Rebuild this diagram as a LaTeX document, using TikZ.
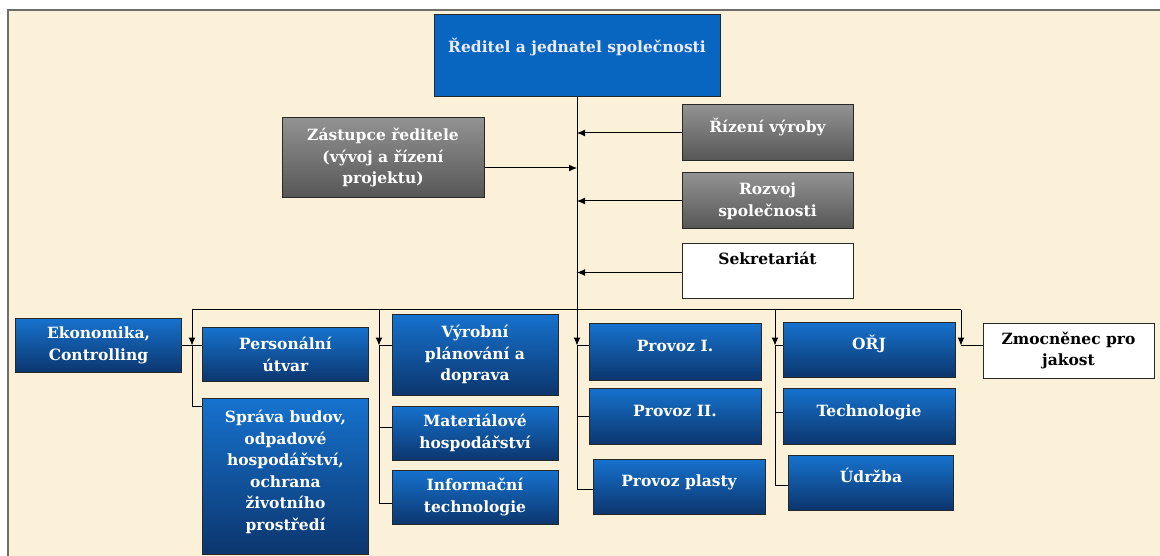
\documentclass[tikz,border=0pt]{standalone}
\usepackage{fontspec}
\setmainfont{DejaVu Serif}
\usepackage{tikz}
\usetikzlibrary{positioning, arrows.meta}
\definecolor{paper}{RGB}{251,240,216}
\definecolor{frame}{RGB}{110,110,110}
\definecolor{topblue}{RGB}{8,102,192}
\definecolor{hiblue}{RGB}{22,114,206}
\definecolor{loblue}{RGB}{12,54,110}
\definecolor{higrey}{RGB}{146,146,146}
\definecolor{logrey}{RGB}{86,86,86}
\definecolor{edge}{RGB}{40,40,40}

\begin{document}
\begin{tikzpicture}[x=1pt, y=-1pt, node distance=10pt, line width=1pt,
  font=\fontsize{15.5}{21.5}\selectfont\bfseries]
 \tikzstyle{H} = [fill=topblue, draw=edge, rectangle, text=white!92!blue, minimum width=286pt, minimum height=82pt, text height=8pt, text depth=14pt]
 \tikzstyle{G} = [top color=higrey, bottom color=logrey, draw=edge, rectangle, text=white, align=center, minimum width=171pt, minimum height=56pt]
 \tikzstyle{U} = [top color=hiblue, bottom color=loblue, draw=edge, rectangle, text=white, align=center, minimum width=166pt, minimum height=54pt]
 \tikzstyle{W} = [fill=white, draw=edge, rectangle, align=center, minimum width=171pt, minimum height=55pt]
 \tikzstyle{L} = [text height=8pt, text depth=8pt]
 \tikzstyle{arr} = [-{Latex[length=8pt, width=7pt]}]

 % page and paper
 \useasboundingbox (0,0) rectangle (1160,556);
 \fill[white] (0,0) rectangle (1160,556);
 \draw[frame, fill=paper, line width=1.4pt] (8,10) rectangle (1175,570);

 % management
 \node [H] (ceo) at (577,56) {Ředitel a jednatel společnosti};
 \node [G, L] (rizeni) at (767.5,133) {Řízení výroby};
 \node [G, below = 11pt of rizeni] (rozvoj) {Rozvoj\\společnosti};
 \node [W, text height=8pt, text depth=21pt, below = 14pt of rozvoj] (sekr) {Sekretariát};
 \node [G, minimum width=202pt, minimum height=80pt] (zast) at (383,158) {Zástupce ředitele\\(vývoj a řízení\\projektu)};

 % departments
 \node [U] (ekon) at (98.5,345.5) {Ekonomika,\\Controlling};
 \node [U] (pers) at (285.5,354.5) {Personální\\útvar};
 \node [U, minimum height=156pt, text depth=12pt, below = 16pt of pers] (sprava) {Správa budov,\\odpadové\\hospodářství,\\ochrana\\životního\\prostředí};
 \node [U, minimum height=81pt] (vyrob) at (475,354.5) {Výrobní\\plánování a\\doprava};
 \node [U, below = 10pt of vyrob] (mater) {Materiálové\\hospodářství};
 \node [U, below = 9pt of mater] (info) {Informační\\technologie};
 \node [U, L, minimum width=172pt, minimum height=57pt] (prov1) at (675,351.5) {Provoz I.};
 \node [U, L, minimum width=172pt, minimum height=56pt, below = 7pt of prov1] (prov2) {Provoz II.};
 \node [U, L, minimum width=172pt, minimum height=55pt, below = 14pt of prov2, xshift=4pt] (plast) {Provoz plasty};
 \node [U, L, minimum width=172pt, minimum height=55pt] (orj) at (869,349.5) {OŘJ};
 \node [U, L, minimum width=172pt, minimum height=56pt, below = 10pt of orj] (tech) {Technologie};
 \node [U, L, minimum width=165pt, minimum height=55pt, below = 10pt of tech, xshift=2pt] (udrz) {Údržba};
 \node [W] (zmoc) at (1068.5,350.5) {Zmocněnec pro\\jakost};

 % staff links
 \coordinate (b1) at (192,310);
 \coordinate (b2) at (379,310);
 \coordinate (b3) at (577,310);
 \coordinate (b4) at (775,310);
 \coordinate (b5) at (961,310);
 \coordinate (z) at ([yshift=-10pt]zast.east);
 \draw (ceo.south) -- (b3);
 \draw[arr] (rizeni.west) -- (rizeni.west -| ceo.south);
 \draw[arr] (rozvoj.west) -- (rozvoj.west -| ceo.south);
 \draw[arr] ([yshift=-1pt]sekr.west) -- ([yshift=-1pt]sekr.west -| ceo.south);
 \draw[arr] (z) -- (z -| ceo.south);

 % bus and columns
 \draw (b1) -- (b5);
 \coordinate (j1) at (b1 |- ekon.east);
 \coordinate (j2) at (b2 |- ekon.east);
 \coordinate (j3) at (b3 |- ekon.east);
 \coordinate (j4) at (b4 |- ekon.east);
 \coordinate (j5) at (b5 |- ekon.east);
 \draw[arr] (b1) -- (j1);
 \draw (ekon.east) -- (ekon.east -| pers.west);
 \draw (j1) |- ([yshift=-8pt]sprava.north west);
 \draw[arr] (b2) -- (j2);
 \draw (j2) -- (j2 -| vyrob.west);
 \draw (j2) |- ([yshift=6pt]mater.west);
 \draw (j2) |- ([yshift=-6pt]info.west);
 \draw[arr] (b3) -- (j3);
 \draw (j3) -- (j3 -| prov1.west);
 \draw (j3) |- (prov2.west);
 \draw (j3) |- ([yshift=-3pt]plast.west);
 \draw[arr] (b4) -- (j4);
 \draw (j4) -- (j4 -| orj.west);
 \draw (j4) |- ([yshift=4pt]tech.west);
 \draw (j4) |- ([yshift=-3pt]udrz.west);
 \draw[arr] (b5) -- (j5);
 \draw (j5) -- (j5 -| zmoc.west);
\end{tikzpicture}
\end{document}
